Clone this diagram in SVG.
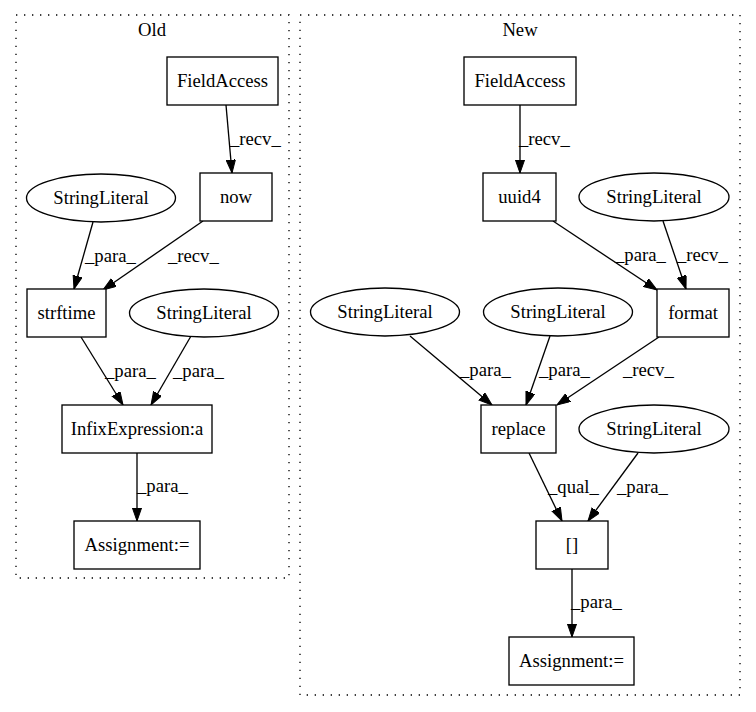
<svg xmlns="http://www.w3.org/2000/svg" width="756" height="712" viewBox="0 0 756 712">
<style>
text{font-family:"Liberation Serif","Times New Roman",serif;font-size:18.67px;fill:#000}
.n{text-anchor:middle}
.box{fill:#fff;stroke:#000;stroke-width:1.33}
.ell{fill:#fff;stroke:#000;stroke-width:1.33}
.cl{fill:none;stroke:#000;stroke-width:1.33;stroke-dasharray:1.33,6.67}
.e line{stroke:#000;stroke-width:1.33;marker-end:url(#ah)}
</style>
<defs>
<marker id="ah" markerUnits="userSpaceOnUse" markerWidth="14" markerHeight="10" refX="13.3" refY="4.67" orient="auto">
<path d="M0,0 L13.3,4.67 L0,9.33 z" fill="#000" stroke="#000" stroke-width="1"/>
</marker>
</defs>
<rect width="756" height="712" fill="#fff"/>
<g id="cluster_old">
<rect class="cl" x="16" y="15" width="273" height="563"/>
<text class="n" x="152" y="36">Old</text>
</g>
<g id="cluster_new">
<rect class="cl" x="300" y="15" width="440" height="680"/>
<text class="n" x="520" y="36">New</text>
</g>
<g id="connectors" class="e">
<line x1="226" y1="105" x2="232" y2="173"/>
<line x1="93" y1="222" x2="74" y2="289"/>
<line x1="203" y1="221" x2="103" y2="290"/>
<line x1="81" y1="337" x2="123" y2="405"/>
<line x1="191" y1="336" x2="151" y2="405"/>
<line x1="137" y1="453" x2="137" y2="521"/>
<line x1="520" y1="105" x2="520" y2="173"/>
<line x1="553" y1="221" x2="657" y2="290"/>
<line x1="663" y1="221" x2="686" y2="289"/>
<line x1="410" y1="336" x2="492" y2="405"/>
<line x1="550" y1="336" x2="526" y2="405"/>
<line x1="659" y1="337" x2="557" y2="405"/>
<line x1="529" y1="453" x2="562" y2="521"/>
<line x1="638" y1="453" x2="588" y2="521"/>
<line x1="572" y1="569" x2="572" y2="637"/>
</g>
<g id="edge_labels">
<text x="230" y="145">_recv_</text>
<text x="85" y="262">_para_</text>
<text x="168" y="262">_recv_</text>
<text x="105" y="377">_para_</text>
<text x="173" y="377">_para_</text>
<text x="137" y="492">_para_</text>
<text x="519" y="145">_recv_</text>
<text x="615" y="261">_para_</text>
<text x="677" y="261">_recv_</text>
<text x="460" y="376">_para_</text>
<text x="539" y="376">_para_</text>
<text x="623" y="376">_recv_</text>
<text x="548" y="493">_qual_</text>
<text x="617" y="493">_para_</text>
<text x="571" y="608">_para_</text>
</g>
<g id="old_fieldaccess"><rect class="box" x="167" y="57" width="111" height="48"/><text class="n" x="222.5" y="86.5">FieldAccess</text></g>
<g id="old_now"><rect class="box" x="200" y="173" width="72" height="48"/><text class="n" x="236" y="202.5">now</text></g>
<g id="old_stringliteral1"><ellipse class="ell" cx="101" cy="198" rx="74.5" ry="24"/><text class="n" x="101" y="203.5">StringLiteral</text></g>
<g id="old_strftime"><rect class="box" x="27" y="289" width="79" height="48"/><text class="n" x="66.5" y="318.5">strftime</text></g>
<g id="old_stringliteral2"><ellipse class="ell" cx="204" cy="313" rx="74.5" ry="24"/><text class="n" x="204" y="318.5">StringLiteral</text></g>
<g id="old_infix"><rect class="box" x="62" y="405" width="150" height="48"/><text class="n" x="137" y="434.5">InfixExpression:a</text></g>
<g id="old_assignment"><rect class="box" x="74" y="521" width="126" height="48"/><text class="n" x="137" y="550.5">Assignment:=</text></g>
<g id="new_fieldaccess"><rect class="box" x="464" y="57" width="112" height="48"/><text class="n" x="520" y="86.5">FieldAccess</text></g>
<g id="new_uuid4"><rect class="box" x="483" y="173" width="73" height="48"/><text class="n" x="519.5" y="202.5">uuid4</text></g>
<g id="new_stringliteral_recv"><ellipse class="ell" cx="654" cy="197" rx="75" ry="24"/><text class="n" x="654" y="202.5">StringLiteral</text></g>
<g id="new_format"><rect class="box" x="657" y="289" width="72" height="48"/><text class="n" x="693" y="318.5">format</text></g>
<g id="new_stringliteral_left"><ellipse class="ell" cx="385" cy="312" rx="74.5" ry="24"/><text class="n" x="385" y="317.5">StringLiteral</text></g>
<g id="new_stringliteral_mid"><ellipse class="ell" cx="558" cy="312" rx="74.5" ry="24"/><text class="n" x="558" y="317.5">StringLiteral</text></g>
<g id="new_replace"><rect class="box" x="481" y="405" width="75" height="48"/><text class="n" x="518.5" y="434.5">replace</text></g>
<g id="new_stringliteral_right"><ellipse class="ell" cx="654" cy="429" rx="75" ry="24"/><text class="n" x="654" y="434.5">StringLiteral</text></g>
<g id="new_index"><rect class="box" x="536" y="521" width="72" height="48"/><text class="n" x="572" y="550.5">[]</text></g>
<g id="new_assignment"><rect class="box" x="509" y="637" width="125" height="48"/><text class="n" x="571.5" y="666.5">Assignment:=</text></g>
</svg>
